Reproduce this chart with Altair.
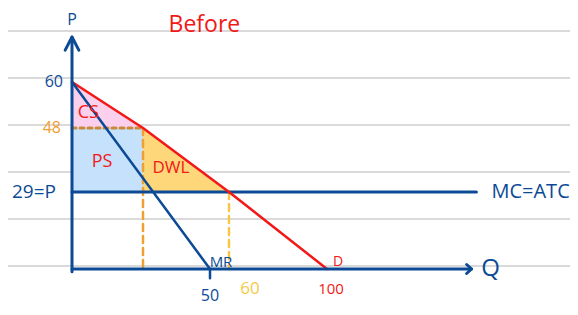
import altair as alt
import pandas as pd

# ---------------- data (economic units) ----------------
demand_q = [0, 26, 60, 100]
demand_p = [60, 48, 29, 0]
mr_q = [0, 50, 50]
mr_p = [60, 0, -3.5]
mc_q = [0, 161]
mc_p = [29, 29]
q_mono = 26
p_mono = 48
p_mc = 29
q_comp = 60
cs_q = [0, 26]
cs_top = [60, 48]
cs_bot = [48, 48]
dwl_q = [26, 60]
dwl_top = [48, 29]
dwl_bot = [29, 29]
notebook_lines = [0, 1, 2, 3, 4, 5, 6]

BLUE = "#0c4a95"
RED = "#f21818"
ORANGE = "#f0a032"
BROWN = "#c98b3b"
YELLOW = "#f5c945"
PINK = "#fbd0ec"
LBLUE = "#c6e1fb"
DWLY = "#fdd77a"
FONT = "Open Sans"

# hand-drawn (non-proportional) axes -> piecewise linear scales
XS = alt.Scale(domain=[0, 26, 50, 60, 100, 160], range=[64, 135, 202, 221, 319, 466],
               zero=False, nice=False)
YS = alt.Scale(domain=[0, 29, 48, 60, 72], range=[261, 184, 120, 74, 29],
               zero=False, nice=False)


def xenc():
    return alt.X("q:Q", scale=XS, axis=None)


def yenc(f="p"):
    return alt.Y(f"{f}:Q", scale=YS, axis=None)


def line(q, p, color, width, dash=None):
    df = pd.DataFrame({"q": q, "p": p, "o": list(range(len(q)))})
    kw = dict(color=color, strokeWidth=width, strokeCap="round", strokeJoin="round")
    if dash:
        kw["strokeDash"] = dash
    return alt.Chart(df).mark_line(**kw).encode(x=xenc(), y=yenc(), order="o:Q")


def label(text, q, p, color, size, dx=0, dy=0, align="center"):
    df = pd.DataFrame({"q": [q], "p": [p], "t": [text]})
    return alt.Chart(df).mark_text(
        color=color, fontSize=size, font=FONT, dx=dx, dy=dy, align=align, baseline="middle"
    ).encode(x=xenc(), y=yenc(), text="t:N")


notebook = alt.Chart(pd.DataFrame({"i": notebook_lines})).mark_rule(
    color="#dadada", strokeWidth=2
).encode(y=alt.Y("i:Q", scale=alt.Scale(domain=[0, 6], range=[23, 305], zero=False, nice=False), axis=None))

ps = alt.Chart(pd.DataFrame({"q": [0], "q2": [q_mono], "p": [p_mc], "p2": [p_mono]})).mark_rect(
    color=LBLUE
).encode(x=xenc(), x2="q2:Q", y=yenc(), y2="p2:Q")

cs = alt.Chart(pd.DataFrame({"q": cs_q, "p": cs_top, "p2": cs_bot})).mark_area(
    color=PINK
).encode(x=xenc(), y=yenc(), y2="p2:Q")

dwl = alt.Chart(pd.DataFrame({"q": dwl_q, "p": dwl_top, "p2": dwl_bot})).mark_area(
    color=DWLY
).encode(x=xenc(), y=yenc(), y2="p2:Q")

layers = [
    notebook, ps, cs, dwl,
    line([0, q_mono], [p_mono, p_mono], BROWN, 3, [4, 4]),
    line([q_mono, q_mono], [p_mono, 0], ORANGE, 2.5, [7, 5]),
    line([q_comp, q_comp], [p_mc, 0], YELLOW, 2.5, [7, 5]),
    line(mc_q, mc_p, BLUE, 3),
    line(demand_q, demand_p, RED, 2.5),
    line(mr_q, mr_p, BLUE, 2.5),
    line([0, 0], [-1, 72], BLUE, 3),
    line([-2.5, 0, 2.5], [68.5, 72, 68.5], BLUE, 3),
    line([0, 159], [0, 0], BLUE, 3),
    line([157, 159, 157], [1.7, 0, -1.7], BLUE, 3),
    label("Before", 48, 72, RED, 23, dy=-12),
    label("P", 0, 72, BLUE, 16, dy=-17),
    label("60", 0, 60, BLUE, 16, dx=-9, align="right"),
    label("48", 0, 48, ORANGE, 16, dx=-11, align="right"),
    label("29=P", 0, 29, BLUE, 19, dx=-16, align="right"),
    label("CS", 6, 52, RED, 18),
    label("PS", 11, 38, RED, 18),
    label("DWL", 36, 36, RED, 17),
    label("MR", 50, 0, BLUE, 15, dx=11, dy=-7),
    label("50", 50, 0, BLUE, 16, dy=27),
    label("60", 60, 0, YELLOW, 17, dx=21, dy=20),
    label("D", 100, 0, RED, 14, dx=11, dy=-7),
    label("100", 100, 0, RED, 15, dx=4, dy=20),
    label("Q", 159, 0, BLUE, 24, dx=19),
    label("MC=ATC", 161, 29, BLUE, 20, dx=15, align="left"),
]

chart = alt.layer(*layers).resolve_scale(y="independent").properties(
    width=562, height=299, padding=0, autosize=alt.AutoSizeParams(type="none")
).configure_view(stroke=None)

chart.save("out.html", embed_options={"renderer": "svg", "actions": False})
